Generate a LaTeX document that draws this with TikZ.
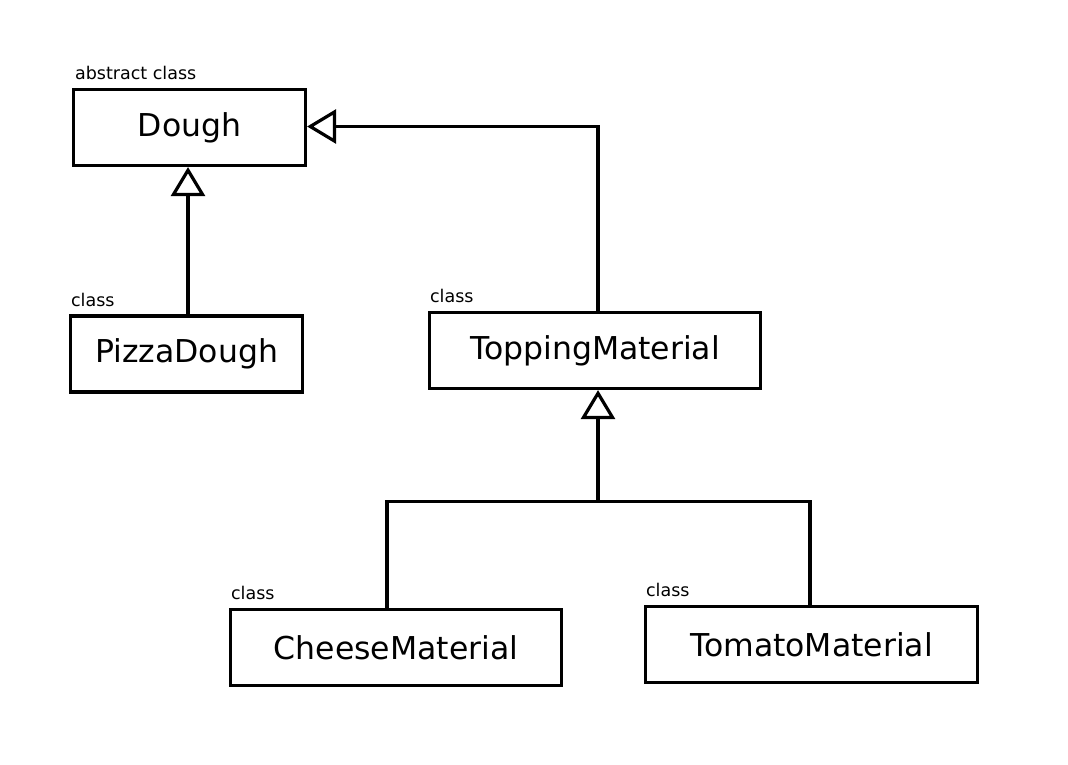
\documentclass[tikz,border=0pt]{standalone}
\usepackage{fontspec}
\setmainfont{DejaVu Sans}
\usetikzlibrary{arrows.meta}

\begin{document}
\begin{tikzpicture}[x=1pt,y=-1pt,
  classbox/.style={draw,line width=3.2pt,minimum width=232pt,minimum height=76pt,
    inner sep=0pt,font=\fontsize{31.5}{36}\selectfont},
  widebox/.style={classbox,minimum width=331pt},
  stereo/.style={anchor=base west,inner sep=0pt,font=\fontsize{17.5}{20}\selectfont},
  inherit/.style={line width=3.2pt,-{Triangle[open,length=29pt,width=34pt,fill=white]}}]
\useasboundingbox (0,0) rectangle (1068,764);
% classes
\node[classbox] (dough) at (189.5,127.5) {Dough};
\node[classbox] (pizzadough) at (186.5,354) {PizzaDough};
\node[widebox] (topping) at (595,350.5) {ToppingMaterial};
\node[widebox] (cheese) at (396,647.5) {CheeseMaterial};
\node[widebox,minimum width=332pt] (tomato) at (811.5,644.5) {TomatoMaterial};
% stereotypes
\node[stereo] (dough-st) at ([shift={(3,-8)}]dough.north west) {abstract class};
\node[stereo] (pizzadough-st) at ([shift={(2,-8)}]pizzadough.north west) {class};
\node[stereo] (topping-st) at ([shift={(2,-8)}]topping.north west) {class};
\node[stereo] (cheese-st) at ([shift={(2,-8)}]cheese.north west) {class};
\node[stereo] (tomato-st) at ([shift={(2,-8)}]tomato.north west) {class};
% inheritance
\draw[inherit] ([xshift=1.5pt]pizzadough.north) -- ([xshift=1.5pt]pizzadough.north |- dough.south);
\draw[inherit] ([xshift=3pt]topping.north) |- ([yshift=1pt]dough.east);
\coordinate (join) at ([shift={(3,111)}]topping.south);
\draw[inherit] (join) -- (join |- topping.south);
\draw[line width=3.2pt] ([xshift=-9pt]cheese.north) |- (join) -| ([xshift=-1.5pt]tomato.north);
\end{tikzpicture}
\end{document}
